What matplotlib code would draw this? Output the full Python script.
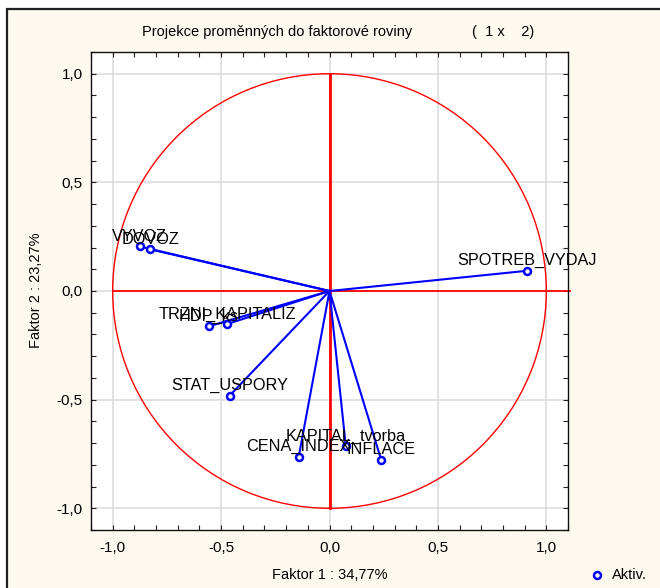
import numpy as np
import matplotlib
matplotlib.use("Agg")
import matplotlib.pyplot as plt
from matplotlib.patches import Rectangle, Circle
from matplotlib.lines import Line2D
from matplotlib.ticker import MultipleLocator, FuncFormatter

plt.rcParams["font.family"] = ["Liberation Sans", "DejaVu Sans"]

# factor loadings of the active variables
variables = ["VYVOZ", "DOVOZ", "TRZNI_KAPITALIZ", "HDP_ks", "STAT_USPORY",
             "CENA_INDEX", "KAPITAL_tvorba", "INFLACE", "SPOTREB_VYDAJ"]
factor1 = [-0.876, -0.827, -0.472, -0.558, -0.460, -0.142, 0.075, 0.238, 0.911]
factor2 = [0.205, 0.192, -0.152, -0.163, -0.481, -0.763, -0.713, -0.776, 0.093]

var1 = "34,77%"
var2 = "23,27%"

fig = plt.figure(figsize=(6.6, 5.88), dpi=100, facecolor="white")

# cream panel with dark frame
panel = Rectangle((7 / 660, -0.05), 1.2, 1 - 9 / 588 + 0.05,
                  transform=fig.transFigure, facecolor="#fdf9ee",
                  edgecolor="#1e1e1e", linewidth=1.6, zorder=-10)
fig.patches.append(panel)

ax = fig.add_axes([91 / 660, 58 / 588, 477 / 660, 478 / 588])
ax.set_facecolor("white")
ax.set_xlim(-1.1, 1.1)
ax.set_ylim(-1.1, 1.1)

ax.xaxis.set_major_locator(MultipleLocator(0.5))
ax.yaxis.set_major_locator(MultipleLocator(0.5))
ax.xaxis.set_minor_locator(MultipleLocator(0.1))
ax.yaxis.set_minor_locator(MultipleLocator(0.1))
comma = FuncFormatter(lambda v, p: f"{v:.1f}".replace(".", ",").replace("-0,0", "0,0"))
ax.xaxis.set_major_formatter(comma)
ax.yaxis.set_major_formatter(comma)
ax.tick_params(which="both", direction="in", top=True, right=True,
               length=3.5, width=0.8, color="#222222")
ax.tick_params(axis="x", labelsize=11, pad=8)
ax.tick_params(axis="y", labelsize=11, pad=6)
ax.grid(True, which="major", color="#dadada", linewidth=1.1)
ax.set_axisbelow(True)
for s in ax.spines.values():
    s.set_linewidth(1.0)
    s.set_color("#111111")

# unit circle and axes through origin
ax.add_patch(Circle((0, 0), 1.0, fill=False, edgecolor="#ff0000", linewidth=1.0, zorder=2))
ax.plot([0, 0], [-1, 1], color="#ff0000", linewidth=2.0, zorder=2)
ax.plot([-1, 1.11], [0, 0], color="#ff0000", linewidth=1.3, zorder=2, clip_on=False)

for name, x, y in zip(variables, factor1, factor2):
    ax.plot([0, x], [0, y], color="#0000ff", linewidth=1.5, zorder=3)
    ax.plot(x, y, "o", markersize=5, markerfacecolor="white",
            markeredgecolor="#0000ff", markeredgewidth=1.8, zorder=4)
    ax.annotate(name, (x, y), xytext=(0, 4), textcoords="offset points",
                ha="center", va="baseline", fontsize=11.7, color="black", zorder=5)

fig.text(142 / 660, 1 - 32 / 588, "Projekce proměnných do faktorové roviny",
         ha="left", va="center", fontsize=10.5)
fig.text(472 / 660, 1 - 32 / 588, "(  1 x    2)", ha="left", va="center", fontsize=10.5)
fig.text(330 / 660, 1 - 575 / 588, f"Faktor 1 : {var1}", ha="center", va="center", fontsize=10.5)
fig.text(36 / 660, 1 - 290 / 588, f"Faktor 2 : {var2}", ha="center", va="center",
         rotation=90, fontsize=10.5)

# legend entry
fig.add_artist(Line2D([597 / 660], [1 - 575 / 588], marker="o", markersize=5,
                      markerfacecolor="white", markeredgecolor="#0000ff",
                      markeredgewidth=1.8, linestyle="none",
                      transform=fig.transFigure))
fig.text(612 / 660, 1 - 575 / 588, "Aktiv.", ha="left", va="center", fontsize=10.5)

fig.savefig("out.png", dpi=100, facecolor=fig.get_facecolor())
